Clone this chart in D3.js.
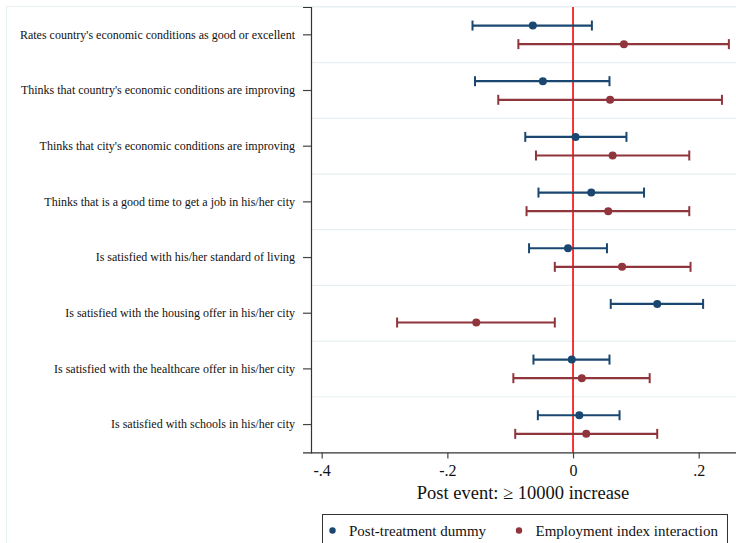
<!DOCTYPE html>
<html>
<head>
<meta charset="utf-8">
<script src="https://cdn.jsdelivr.net/npm/d3@7/dist/d3.min.js"></script>
<style>
  html, body { margin: 0; padding: 0; background: #fff; }
  svg { display: block; }
  text { font-family: "Liberation Serif", "Times New Roman", serif; fill: #111; }
</style>
</head>
<body>
<svg id="chart" width="736" height="543"></svg>
<script>
// Outcome questions (top to bottom)
const outcomes = [
  "Rates country's economic conditions as good or excellent",
  "Thinks that country's economic conditions are improving",
  "Thinks that city's economic conditions are improving",
  "Thinks that is a good time to get a job in his/her city",
  "Is satisfied with his/her standard of living",
  "Is satisfied with the housing offer in his/her city",
  "Is satisfied with the healthcare offer in his/her city",
  "Is satisfied with schools in his/her city"
];

// Post-treatment dummy: estimate and 95% CI
const postEst = [-0.064, -0.048, 0.004, 0.029, -0.008, 0.134, -0.002, 0.010];
const postLo  = [-0.160, -0.156, -0.076, -0.055, -0.070, 0.060, -0.063, -0.056];
const postHi  = [0.030, 0.058, 0.085, 0.113, 0.054, 0.207, 0.058, 0.074];

// Employment index interaction: estimate and 95% CI
const empEst = [0.081, 0.059, 0.063, 0.056, 0.078, -0.154, 0.014, 0.021];
const empLo  = [-0.087, -0.119, -0.059, -0.074, -0.029, -0.280, -0.095, -0.092];
const empHi  = [0.248, 0.237, 0.185, 0.185, 0.187, -0.029, 0.122, 0.134];

const xTicks = [-0.4, -0.2, 0, 0.2];
const seriesNames = ["Post-treatment dummy", "Employment index interaction"];
const seriesColors = ["#1a476f", "#90353b"];

const svg = d3.select("#chart");
const W = 736, H = 543;
const plot = { left: 311, top: 7, bottom: 452.4 };

const x = d3.scaleLinear().domain([-0.4, 0.2]).range([321.7, 698.7]);
const y = d3.scaleBand().domain(outcomes).range([plot.top, plot.bottom]).paddingInner(0).paddingOuter(0);
const offset = 9.3;

// Outer frame of the graph region
svg.append("rect")
  .attr("x", 6.5).attr("y", 6.5).attr("width", W).attr("height", 600)
  .attr("fill", "none").attr("stroke", "#e8f0f2").attr("stroke-width", 1);

// Horizontal grid lines between outcomes
const gridYs = outcomes.map(o => y(o));
svg.append("g").selectAll("line").data(gridYs).join("line")
  .attr("x1", plot.left).attr("x2", W)
  .attr("y1", d => d).attr("y2", d => d)
  .attr("stroke", "#e6eff2").attr("stroke-width", 1.2);

// Zero reference line
svg.append("line")
  .attr("x1", x(0)).attr("x2", x(0))
  .attr("y1", plot.top).attr("y2", plot.bottom)
  .attr("stroke", "#ff0000").attr("stroke-width", 1.6);

// Coefficient series
const series = [
  { est: postEst, lo: postLo, hi: postHi, dy: -offset, color: seriesColors[0] },
  { est: empEst, lo: empLo, hi: empHi, dy: offset, color: seriesColors[1] }
];

series.forEach(s => {
  const rows = outcomes.map((o, i) => ({
    cy: y(o) + y.bandwidth() / 2 + s.dy,
    est: s.est[i], lo: s.lo[i], hi: s.hi[i]
  }));
  const g = svg.append("g");
  g.selectAll("line.ci").data(rows).join("line")
    .attr("x1", d => x(d.lo)).attr("x2", d => x(d.hi))
    .attr("y1", d => d.cy).attr("y2", d => d.cy)
    .attr("stroke", s.color).attr("stroke-width", 2.2);
  g.selectAll("line.caplo").data(rows).join("line")
    .attr("x1", d => x(d.lo)).attr("x2", d => x(d.lo))
    .attr("y1", d => d.cy - 5).attr("y2", d => d.cy + 5)
    .attr("stroke", s.color).attr("stroke-width", 2);
  g.selectAll("line.caphi").data(rows).join("line")
    .attr("x1", d => x(d.hi)).attr("x2", d => x(d.hi))
    .attr("y1", d => d.cy - 5).attr("y2", d => d.cy + 5)
    .attr("stroke", s.color).attr("stroke-width", 2);
  g.selectAll("circle").data(rows).join("circle")
    .attr("cx", d => x(d.est)).attr("cy", d => d.cy).attr("r", 4)
    .attr("fill", s.color);
});

// Left axis with outcome labels
const yAxis = d3.axisLeft(y).tickSize(8).tickPadding(8);
const gy = svg.append("g").attr("transform", `translate(${plot.left},0)`).call(yAxis);
gy.select(".domain").attr("stroke", "#333").attr("stroke-width", 1.2);
gy.selectAll(".tick line").attr("stroke", "#444").attr("stroke-width", 1.2);
gy.selectAll(".tick text")
  .attr("font-size", 12).attr("fill", "#111");

// Bottom axis
const fmt = v => v === 0 ? "0" : d3.format(".1f")(v).replace("0.", ".").replace("\u2212", "-");
const xAxis = d3.axisBottom(x).tickValues(xTicks).tickSize(6).tickPadding(6).tickFormat(fmt);
const gx = svg.append("g").attr("transform", `translate(0,${plot.bottom})`).call(xAxis);
gx.select(".domain").attr("d", `M${plot.left},0.5H${W}`).attr("stroke", "#333").attr("stroke-width", 1.2);
gx.selectAll(".tick line").attr("stroke", "#444").attr("stroke-width", 1.2);
gx.selectAll(".tick text")
  .attr("font-size", 16).attr("fill", "#111");

// Axis title
svg.append("text")
  .attr("x", 523).attr("y", 498.5)
  .attr("text-anchor", "middle").attr("font-size", 18.5)
  .text("Post event: \u2265 10000 increase");

// Legend
const leg = svg.append("g");
leg.append("rect")
  .attr("x", 322.5).attr("y", 514.5).attr("width", 405).attr("height", 40)
  .attr("fill", "#fff").attr("stroke", "#333").attr("stroke-width", 1);
const legX = [332.5, 519];
seriesNames.forEach((name, i) => {
  leg.append("circle").attr("cx", legX[i]).attr("cy", 530.5).attr("r", 3.2).attr("fill", seriesColors[i]);
  leg.append("text").attr("x", legX[i] + 16.5).attr("y", 535.5)
    .attr("font-size", 15).text(name);
});
</script>
</body>
</html>
